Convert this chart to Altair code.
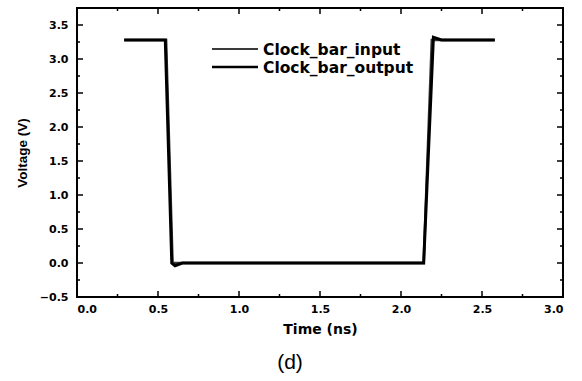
import altair as alt
import pandas as pd

# Data
in_time = [0.30, 0.55, 0.59, 2.14, 2.19, 2.57]
in_volt = [3.28, 3.28, 0.00, 0.00, 3.28, 3.28]
out_time = [0.30, 0.545, 0.585, 0.605, 0.65, 2.14, 2.20, 2.25, 2.57]
out_volt = [3.28, 3.28, 0.00, -0.04, 0.00, 0.00, 3.32, 3.28, 3.28]
series_names = ["Clock_bar_input", "Clock_bar_output"]
series_colors = ["#3a3a3a", "#000000"]
series_widths = [2.5, 3.0]

x_major = [0.0, 0.5, 1.0, 1.5, 2.0, 2.5, 3.0]
x_minor = [0.25, 0.75, 1.25, 1.75, 2.25, 2.75]
y_major = [-0.5, 0.0, 0.5, 1.0, 1.5, 2.0, 2.5, 3.0, 3.5]
y_minor = [-0.25, 0.25, 0.75, 1.25, 1.75, 2.25, 2.75, 3.25]

W, H = 486, 289
WIDE = "DejaVu Sans"
ARIAL = "Liberation Sans"

rows = []
for i, (t, v) in enumerate(zip(in_time, in_volt)):
    rows.append({"Time": t, "Voltage": v, "series": series_names[0], "o": i})
for i, (t, v) in enumerate(zip(out_time, out_volt)):
    rows.append({"Time": t, "Voltage": v, "series": series_names[1], "o": i})
df = pd.DataFrame(rows)

xs = alt.Scale(domain=[0, 3], nice=False, zero=False)
ys = alt.Scale(domain=[-0.5, 3.75], nice=False, zero=False)

xaxis = alt.Axis(values=x_major, format=".1f", title="Time (ns)",
                 ticks=False, domain=False, grid=False, labelOverlap=False,
                 labelFont=WIDE, labelFontSize=11, labelFontWeight="bold",
                 labelColor="black", labelPadding=6,
                 titleFont=WIDE, titleFontSize=14, titleFontWeight="bold",
                 titleColor="black", titlePadding=8)
yaxis = alt.Axis(values=y_major, format=".1f", title="Voltage (V)",
                 ticks=False, domain=False, grid=False, labelOverlap=False,
                 labelFont=WIDE, labelFontSize=11, labelFontWeight="bold",
                 labelColor="black", labelPadding=9,
                 titleFont=ARIAL, titleFontSize=13.5, titleFontWeight="bold",
                 titleColor="black", titlePadding=10)

lines = alt.Chart(df).mark_line(strokeCap="square", strokeJoin="miter").encode(
    x=alt.X("Time:Q", scale=xs, axis=xaxis),
    y=alt.Y("Voltage:Q", scale=ys, axis=yaxis),
    color=alt.Color("series:N",
                    scale=alt.Scale(domain=series_names, range=series_colors),
                    legend=None),
    strokeWidth=alt.StrokeWidth("series:N",
                                scale=alt.Scale(domain=series_names, range=series_widths),
                                legend=None),
    order="o:Q",
)

xmaj = pd.DataFrame({"Time": x_major})
xmin = pd.DataFrame({"Time": x_minor})
ymaj = pd.DataFrame({"Voltage": y_major})
ymin = pd.DataFrame({"Voltage": y_minor})

def xticks(d, ln):
    bot = alt.Chart(d).mark_rule(color="black", strokeWidth=1.5).encode(
        x=alt.X("Time:Q", scale=xs, axis=xaxis), y=alt.value(H), y2=alt.value(H - ln))
    top = alt.Chart(d).mark_rule(color="black", strokeWidth=1.5).encode(
        x=alt.X("Time:Q", scale=xs, axis=xaxis), y=alt.value(0), y2=alt.value(ln))
    return [bot, top]

def yticks(d, ln):
    lft = alt.Chart(d).mark_rule(color="black", strokeWidth=1.5).encode(
        y=alt.Y("Voltage:Q", scale=ys, axis=yaxis), x=alt.value(0), x2=alt.value(ln))
    rgt = alt.Chart(d).mark_rule(color="black", strokeWidth=1.5).encode(
        y=alt.Y("Voltage:Q", scale=ys, axis=yaxis), x=alt.value(W), x2=alt.value(W - ln))
    return [lft, rgt]

# Legend drawn by hand
legend_layers = []
for k, name in enumerate(series_names):
    ld = pd.DataFrame({"label": [name]})
    ly = 41 + 18 * k
    legend_layers.append(alt.Chart(ld).mark_rule(
        color=series_colors[k], strokeWidth=series_widths[k] - 0.5).encode(
        x=alt.value(135), x2=alt.value(181), y=alt.value(ly)))
    legend_layers.append(alt.Chart(ld).mark_text(
        font=WIDE, fontSize=15.5, fontWeight="bold", color="black",
        align="left", baseline="middle").encode(
        text="label:N", x=alt.value(186), y=alt.value(ly + 1)))

label_df = pd.DataFrame({"t": ["(d)"]})
dlabel = alt.Chart(label_df).mark_text(
    font="Liberation Sans Narrow, Liberation Sans", fontSize=21, color="black"
).encode(text="t:N", x=alt.value(213), y=alt.value(355))

layers = ([lines] + xticks(xmaj, 6) + xticks(xmin, 3) + yticks(ymaj, 6)
          + yticks(ymin, 3) + legend_layers + [dlabel])

chart = alt.layer(*layers).properties(
    width=W, height=H,
    background="white",
    autosize=alt.AutoSizeParams(type="none"),
    padding={"left": 77, "top": 8, "right": 19, "bottom": 84},
).configure_view(stroke="black", strokeWidth=2).configure_axis(labelOverlap=False)

chart.save("out.html", embed_options={"renderer": "svg", "actions": False})
